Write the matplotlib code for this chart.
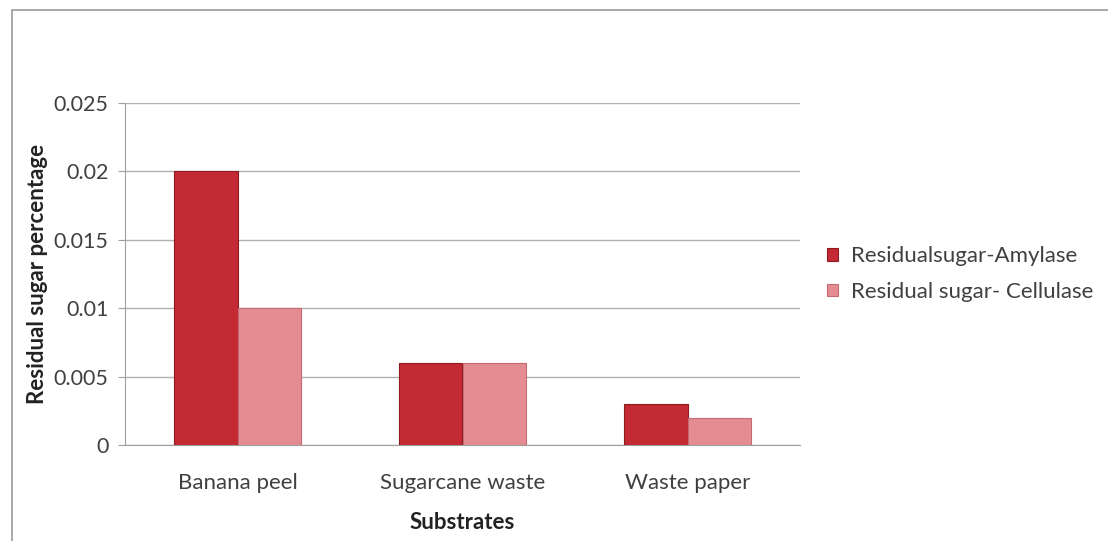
import matplotlib.pyplot as plt
import numpy as np

plt.rcParams['font.family'] = ['Lato', 'DejaVu Sans']

substrates = ["Banana peel", "Sugarcane waste", "Waste paper"]
amylase = [0.020, 0.006, 0.003]
cellulase = [0.010, 0.006, 0.002]
series_names = ["Residualsugar-Amylase", "Residual sugar- Cellulase"]
y_ticks = [0, 0.005, 0.01, 0.015, 0.02, 0.025]
y_tick_labels = ["0", "0.005", "0.01", "0.015", "0.02", "0.025"]

fig = plt.figure(figsize=(11.08, 5.41), dpi=100)
fig.patch.set_facecolor("white")

# outer chart border
border = plt.Rectangle((12 / 1108, -0.02), 1.2, 1 - 10 / 541 + 0.02,
                       transform=fig.transFigure, fill=False,
                       edgecolor="#9a9a9a", linewidth=1.2)
fig.patches.append(border)

ax = fig.add_axes([125 / 1108, 1 - 445 / 541, 675 / 1108, 342 / 541])

x = np.arange(len(substrates))
w = 0.282
ax.bar(x - w / 2, amylase, w, color="#c42a33", edgecolor="#8e1b22",
       linewidth=0.8, label=series_names[0], zorder=3)
ax.bar(x + w / 2, cellulase, w, color="#e38c91", edgecolor="#c56a70",
       linewidth=0.8, label=series_names[1], zorder=3)

ax.set_xlim(-0.5, 2.5)
ax.set_ylim(0, 0.025)
ax.set_yticks(y_ticks)
ax.set_yticklabels(y_tick_labels)
ax.set_xticks(x)
ax.set_xticklabels(substrates)
ax.yaxis.grid(True, color="#b0b0b0", linewidth=1.0, zorder=0)
ax.set_axisbelow(True)

for s in ["top", "right"]:
    ax.spines[s].set_visible(False)
ax.spines["left"].set_color("#a0a0a0")
ax.spines["bottom"].set_color("#a0a0a0")
ax.tick_params(axis="y", length=5, color="#a0a0a0", labelsize=15.5,
               labelcolor="#404040", pad=7)
ax.tick_params(axis="x", length=0, labelsize=16, labelcolor="#404040",
               pad=20)

ax.set_xlabel("Substrates", fontsize=16, fontweight="bold", labelpad=14,
              color="#222222")
ax.set_ylabel("Residual sugar percentage", fontsize=16, fontweight="bold",
              labelpad=4, color="#222222")

ax.legend(loc="center left", bbox_to_anchor=(1.01, 0.5), frameon=False,
          fontsize=16, handlelength=0.5, handleheight=0.5,
          handletextpad=0.6, labelspacing=0.7,
          labelcolor="#404040")

fig.savefig("out.png", dpi=100)
